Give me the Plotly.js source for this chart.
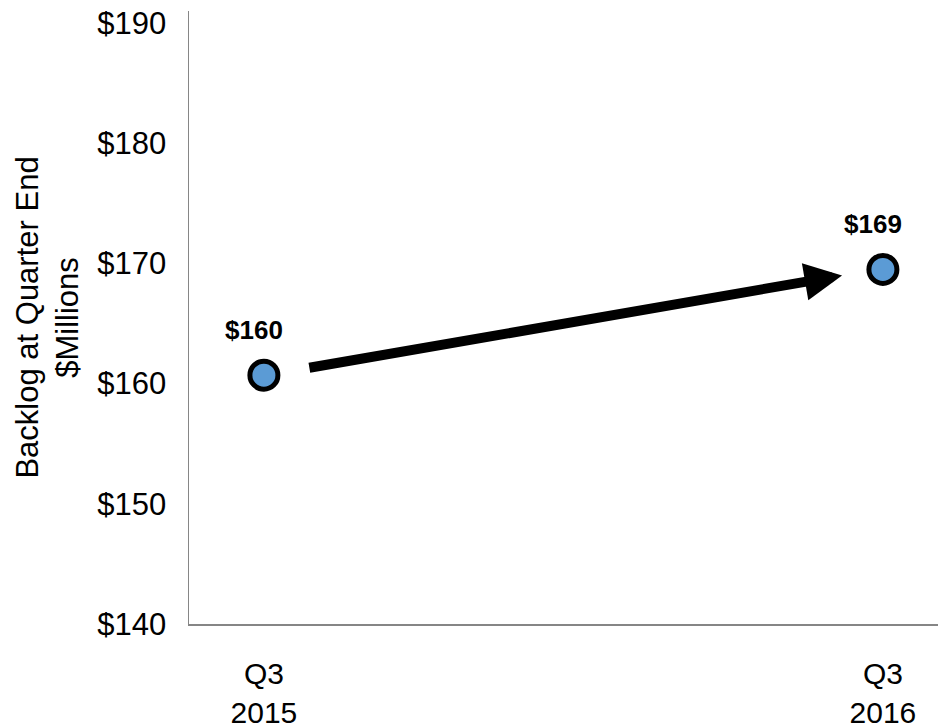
<!DOCTYPE html>
<html>
<head>
<meta charset="utf-8">
<script src="https://cdn.plot.ly/plotly-3.0.1.min.js"></script>
<style>html,body{margin:0;padding:0;background:#fff;}#chart{width:938px;height:727px;}</style>
</head>
<body>
<div id="chart"></div>
<script>
// Data
const categories = ["Q3<br>2015", "Q3<br>2016"];
const positions = [0, 1];
const backlog = [160.7, 169.5];
const dataLabels = ["$160", "$169"];
const yTickVals = [140, 150, 160, 170, 180, 190];
const yTickText = ["$140", "$150", "$160", "$170", "$180", "$190"];
// arrow (tail -> tip) in data coordinates
const arrowTail = {x: 0.071, y: 161.3};
const arrowTip = {x: 0.934, y: 169.0};

const FONT = "Liberation Sans, Arial, sans-serif";
const xRange = [-0.121, 1.089];

const trace = {
  x: positions,
  y: backlog,
  type: "scatter",
  mode: "markers",
  marker: {size: 28, color: "#5B9BD5", line: {color: "#000000", width: 5}},
  hoverinfo: "skip",
  showlegend: false
};

const annotations = backlog.map((v, i) => ({
  x: positions[i], y: v, xref: "x", yref: "y",
  text: "<b>" + dataLabels[i] + "</b>",
  showarrow: false, yshift: 45, xshift: -10,
  font: {family: FONT, size: 26, color: "#000"}
}));
annotations.push({
  x: arrowTip.x, y: arrowTip.y, ax: arrowTail.x, ay: arrowTail.y,
  xref: "x", yref: "y", axref: "x", ayref: "y",
  text: "", showarrow: true, arrowhead: 2, arrowsize: 0.75, arrowwidth: 10,
  arrowcolor: "#000000", standoff: 0, startstandoff: 0
});

const layout = {
  width: 938, height: 727,
  margin: {l: 189, r: 0, t: 11, b: 103},
  paper_bgcolor: "#fff", plot_bgcolor: "#fff",
  showlegend: false,
  font: {family: FONT, color: "#000"},
  xaxis: {
    range: xRange, tickmode: "array", tickvals: positions, ticktext: categories,
    showgrid: false, zeroline: false, showline: true, linecolor: "#868686", linewidth: 1.5,
    ticks: "", tickfont: {family: FONT, size: 30, color: "#000"}, ticklabelstandoff: 22
  },
  yaxis: {
    range: [140, 191], tickmode: "array", tickvals: yTickVals, ticktext: yTickText,
    showgrid: false, zeroline: false, showline: true, linecolor: "#868686", linewidth: 1.5,
    ticks: "", tickfont: {family: FONT, size: 31, color: "#000"}, ticklabelstandoff: 15,
    title: {text: "Backlog at Quarter End<br>$Millions", font: {family: FONT, size: 31, color: "#000"}, standoff: 9}
  },
  annotations: annotations
};

Plotly.newPlot("chart", [trace], layout, {displayModeBar: false, staticPlot: true});
</script>
</body>
</html>
